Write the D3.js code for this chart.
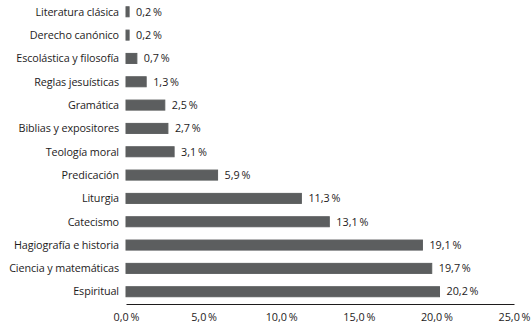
<!DOCTYPE html>
<html>
<head>
<meta charset="utf-8">
<script src="https://cdn.jsdelivr.net/npm/d3@7"></script>
<style>
  body { margin: 0; background: #fff; }
  text { font-family: "Open Sans", sans-serif; fill: #1e1b1c; }
</style>
</head>
<body>
<div id="vis-container"></div>
<script>
// categories, top to bottom
const categories = [
  "Literatura clásica", "Derecho canónico", "Escolástica y filosofía",
  "Reglas jesuísticas", "Gramática", "Biblias y expositores",
  "Teología moral", "Predicación", "Liturgia", "Catecismo",
  "Hagiografía e historia", "Ciencia y matemáticas", "Espiritual"
];
const values = [0.2, 0.2, 0.7, 1.3, 2.5, 2.7, 3.1, 5.9, 11.3, 13.1, 19.1, 19.7, 20.2];
const xTickValues = [0, 5, 10, 15, 20, 25];

const width = 531;
const height = 330;
const padding = { top: 0, right: 16, bottom: 26, left: 126 };

const esLocale = d3.formatLocale({ decimal: ",", thousands: ".", grouping: [3], currency: ["", " €"] });
const fmt = esLocale.format(".1f");
const pct = d => fmt(d) + "\u2009%";

const xScale = d3.scaleLinear().domain([0, 25]).range([0, 388]);
const yScale = d3.scaleBand().domain(categories).range([0, 303.5]).paddingInner(0.57).paddingOuter(0.29);

const svg = d3.select('#vis-container').append('svg')
  .attr('width', width)
  .attr('height', height);

const g = svg.append('g')
  .attr('transform', `translate(${padding.left} ${padding.top})`);

// bars
g.selectAll('rect.bar')
  .data(values)
  .join('rect')
  .attr('class', 'bar')
  .attr('x', 0)
  .attr('y', (d, i) => yScale(categories[i]))
  .attr('width', d => xScale(d))
  .attr('height', yScale.bandwidth())
  .attr('fill', '#5c5e5f')
  .attr('stroke', '#5c5e5f')
  .attr('stroke-width', 1);

// value labels
g.selectAll('text.val')
  .data(values)
  .join('text')
  .attr('class', 'val')
  .attr('x', d => xScale(d) + 7)
  .attr('y', (d, i) => yScale(categories[i]) + yScale.bandwidth() / 2)
  .attr('dy', '0.35em')
  .attr('font-size', 10.8)
  .text(pct);

// category labels
g.selectAll('text.cat')
  .data(categories)
  .join('text')
  .attr('class', 'cat')
  .attr('x', -7)
  .attr('y', d => yScale(d) + yScale.bandwidth() / 2)
  .attr('dy', '0.35em')
  .attr('text-anchor', 'end')
  .attr('font-size', 10.8)
  .attr('letter-spacing', -0.1)
  .text(d => d);

// x axis
const xAxisG = g.append('g')
  .attr('transform', `translate(0 ${304})`)
  .call(d3.axisBottom(xScale).tickValues(xTickValues).tickSize(0).tickPadding(9).tickFormat(pct));
xAxisG.select('.domain').attr('stroke', '#1e1b1c').attr('stroke-width', 1);
xAxisG.selectAll('text').attr('font-size', 10.8).attr('font-family', '"Open Sans", sans-serif').attr('fill', '#1e1b1c');
</script>
</body>
</html>
